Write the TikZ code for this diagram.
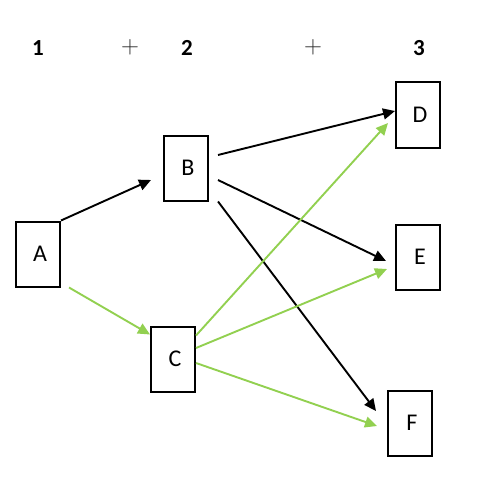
\documentclass[tikz,border=0pt]{standalone}
\usepackage{fontspec}
\setmainfont{Carlito}
\usepackage{xcolor}
\usepackage{tikz}
\usetikzlibrary{arrows.meta,positioning}
\definecolor{linkgreen}{RGB}{146,208,80}

\begin{document}
\begin{tikzpicture}[x=1pt, y=1pt, >={Triangle[length=12pt, width=11pt]}]
        \tikzset{
            stage/.style={draw, fill=white, rectangle, minimum height=65pt, minimum width=44pt, line width=2pt, inner sep=0pt, font=\fontsize{24}{28}\selectfont},
            colnum/.style={font=\fontsize{23}{27}\selectfont\bfseries},
            plussign/.style={font=\fontsize{32}{36}\selectfont, text=black!85},
            blacklink/.style={->, line width=1.9pt, black},
            greenlink/.style={->, line width=1.9pt, linkgreen}
        }
        \useasboundingbox (0,0) rectangle (495,-500);

        % Column headers
        \node [colnum] (col1) at (38,-48) {1};
        \node [plussign] (plus1) at (130,-47) {$+$};
        \node [colnum] (col2) at (187,-48) {2};
        \node [plussign] (plus2) at (313,-47) {$+$};
        \node [colnum] (col3) at (419,-48) {3};

        % Nodes
        \node [stage] (A) at (38,-254) {\,A};
        \node [stage] (B) at (186,-168) {\,B};
        \node [stage] (C) at (173,-359) {\,C};
        \node [stage] (D) at (418,-115) {\,D};
        \node [stage] (E) at (418,-257) {\,E};
        \node [stage] (F) at (410,-423) {\,F};

        % Connections
        \draw [blacklink] (A.north east) -- ([shift={(-12pt,-12pt)}]B.west);
        \draw [greenlink] ([xshift=8pt]A.south east) -- ([yshift=-9pt]C.north west);

        \draw [blacklink] ([shift={(9pt,13pt)}]B.east) -- ([yshift=4pt]D.west);
        \draw [blacklink] ([shift={(9pt,-12pt)}]B.east) -- ([shift={(-9pt,-4pt)}]E.west);
        \draw [blacklink] ([xshift=9pt]B.south east) -- ([shift={(-11pt,12pt)}]F.west);

        \draw [greenlink] ([yshift=-10pt]C.north east) -- ([shift={(-7pt,-8pt)}]D.west);
        \draw [greenlink] ([yshift=11pt]C.east) -- ([shift={(-8pt,-12pt)}]E.west);
        \draw [greenlink] ([yshift=-4pt]C.east) -- ([shift={(-10pt,-3pt)}]F.west);
    \end{tikzpicture}
\end{document}
